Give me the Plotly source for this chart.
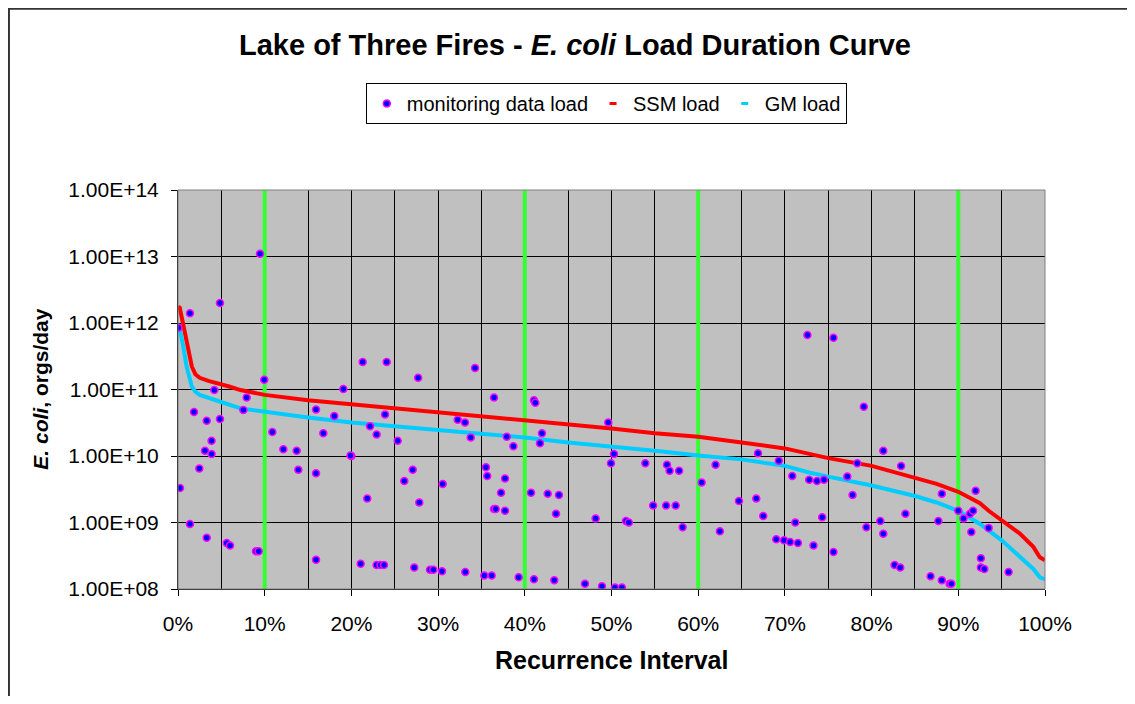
import plotly.graph_objects as go

# monitoring data: recurrence interval (fraction) and load (orgs/day)
mon_x = [
    0.0946, 0.0484, 0.0138, 0.0004, 0.0995, 0.0419, 0.0792, 0.0754, 0.0185, 0.0331,
    0.0484, 0.1088, 0.0387, 0.0311, 0.0387, 0.1215, 0.1369, 0.0246, 0.1388, 0.1592,
    0.0023, 0.0138, 0.0331, 0.0562, 0.0600, 0.0900, 0.0930, 0.1592, 0.1592, 0.1676,
    0.1907, 0.1803, 0.2000, 0.1990, 0.2183, 0.2130, 0.2407, 0.2388, 0.2215, 0.2291,
    0.2107, 0.2291, 0.2337, 0.2376,
    0.2770, 0.3426, 0.2534, 0.2707, 0.2610, 0.2783, 0.3053, 0.3226, 0.3310, 0.3376,
    0.3645, 0.3792, 0.3868, 0.3552, 0.3567, 0.3772, 0.3726, 0.3645, 0.3664, 0.3772,
    0.4106, 0.4121, 0.4198, 0.4175, 0.4072, 0.4264, 0.4394, 0.4360, 0.4817, 0.2725,
    0.2907, 0.2945, 0.3045, 0.3314, 0.3533, 0.3618, 0.3929, 0.4106, 0.4340, 0.4694,
    0.4890,
    0.4963, 0.5029, 0.4994, 0.5167, 0.5200, 0.5040, 0.5120, 0.5390, 0.5480, 0.5640,
    0.5670, 0.5780, 0.5630, 0.5740, 0.5820, 0.6040, 0.6200, 0.6250, 0.6470, 0.6670,
    0.6690, 0.6750, 0.6930, 0.7085, 0.7120, 0.6900, 0.6990, 0.7060, 0.7150, 0.7260,
    0.7280,
    0.7560, 0.7910, 0.8135, 0.7835, 0.7720, 0.8340, 0.7370, 0.7450, 0.7780, 0.7430,
    0.8100, 0.7940, 0.8135, 0.8390, 0.8770, 0.8810, 0.9200, 0.9000, 0.9060, 0.9135,
    0.9170, 0.9150, 0.9350, 0.9260, 0.9260, 0.9300, 0.9580, 0.7330, 0.7560, 0.8265,
    0.8330, 0.8680, 0.8810, 0.8900, 0.8920,
]
mon_y = [
    1.1e13, 2.0e12, 1.4e12, 8.5e11, 1.4e11, 9.8e10, 7.6e10, 4.9e10, 4.6e10, 3.4e10,
    3.6e10, 2.3e10, 1.7e10, 1.2e10, 1.07e10, 1.26e10, 1.2e10, 6.5e9, 6.2e9, 5.5e9,
    3.3e9, 9.5e8, 5.9e8, 4.9e8, 4.5e8, 3.7e8, 3.7e8, 2.75e8, 5.0e10, 2.2e10,
    1.02e11, 4.0e10, 1.0e10, 1.02e10, 2.3e9, 2.6e11, 2.6e11, 4.2e10, 2.8e10, 2.1e10,
    2.4e8, 2.3e8, 2.3e8, 2.3e8,
    1.5e11, 2.1e11, 1.7e10, 6.2e9, 4.2e9, 2.0e9, 3.8e9, 3.5e10, 3.2e10, 1.9e10,
    7.6e10, 1.95e10, 1.4e10, 6.8e9, 5.0e9, 4.6e9, 2.8e9, 1.6e9, 1.6e9, 1.5e9,
    6.9e10, 6.3e10, 2.2e10, 1.55e10, 2.8e9, 2.7e9, 2.6e9, 1.35e9, 1.15e9, 2.1e8,
    1.95e8, 1.95e8, 1.85e8, 1.8e8, 1.6e8, 1.6e8, 1.5e8, 1.4e8, 1.35e8, 1.2e8,
    1.1e8,
    3.2e10, 1.07e10, 7.8e9, 1.05e9, 1.0e9, 1.05e8, 1.05e8, 7.8e9, 1.8e9, 7.4e9,
    6.0e9, 6.0e9, 1.8e9, 1.8e9, 8.5e8, 4.0e9, 7.4e9, 7.4e8, 2.1e9, 2.3e9,
    1.1e10, 1.25e9, 8.5e9, 5.0e9, 1.0e9, 5.6e8, 5.4e8, 5.1e8, 4.9e8, 6.6e11,
    4.4e9,
    6.0e11, 5.5e10, 1.2e10, 7.8e9, 4.9e9, 7.1e9, 4.2e9, 4.4e9, 2.6e9, 1.2e9,
    1.05e9, 8.5e8, 6.8e8, 1.35e9, 1.05e9, 2.7e9, 3.0e9, 1.5e9, 1.15e9, 1.35e9,
    1.5e9, 7.2e8, 8.3e8, 2.9e8, 2.1e8, 2.0e8, 1.8e8, 4.5e8, 3.6e8, 2.3e8,
    2.1e8, 1.55e8, 1.35e8, 1.2e8, 1.2e8,
]

# load duration curves
ssm_x = [0.0, 0.002, 0.005, 0.008, 0.012, 0.016, 0.020, 0.025, 0.035, 0.048, 0.060, 0.072,
         0.10, 0.15, 0.20, 0.25, 0.30, 0.35, 0.40, 0.45, 0.50, 0.55, 0.60, 0.65, 0.70,
         0.75, 0.80, 0.85, 0.875, 0.90, 0.91, 0.925, 0.935, 0.95, 0.971, 0.9865, 0.994, 1.0]
ssm_y = [1.75e12, 1.7e12, 1.1e12, 7.1e11, 3.5e11, 2.2e11, 1.7e11, 1.5e11, 1.35e11, 1.23e11,
         1.1e11, 9.8e10, 8.3e10, 6.9e10, 6.0e10, 5.2e10, 4.6e10, 4.0e10, 3.5e10, 3.0e10,
         2.6e10, 2.2e10, 1.95e10, 1.6e10, 1.3e10, 9.3e9, 7.1e9, 4.7e9, 3.8e9, 2.9e9,
         2.5e9, 1.95e9, 1.5e9, 1.07e9, 6.8e8, 4.3e8, 3.0e8, 2.7e8]

gm_x = [0.0, 0.003, 0.006, 0.010, 0.016, 0.020, 0.025, 0.035, 0.048, 0.072, 0.10, 0.15,
        0.20, 0.25, 0.30, 0.35, 0.40, 0.45, 0.50, 0.55, 0.60, 0.65, 0.70, 0.729, 0.75,
        0.80, 0.85, 0.875, 0.90, 0.925, 0.95, 0.971, 0.9865, 0.994, 1.0]
gm_y = [9.5e11, 7.0e11, 4.5e11, 2.2e11, 1.1e11, 9.3e10, 8.3e10, 7.4e10, 6.6e10, 5.2e10,
        4.6e10, 3.8e10, 3.2e10, 2.8e10, 2.4e10, 2.1e10, 1.9e10, 1.6e10, 1.4e10, 1.2e10,
        1.02e10, 8.9e9, 7.1e9, 5.6e9, 4.9e9, 3.6e9, 2.5e9, 2.0e9, 1.5e9, 9.5e8,
        5.4e8, 3.0e8, 2.0e8, 1.5e8, 1.4e8]

# flow zone boundaries (green verticals)
zone_x = [0.10, 0.10, None, 0.40, 0.40, None, 0.60, 0.60, None, 0.90, 0.90]
zone_y = [1e8, 1e14, None, 1e8, 1e14, None, 1e8, 1e14, None, 1e8, 1e14]

y_tickvals = [1e8, 1e9, 1e10, 1e11, 1e12, 1e13, 1e14]
y_ticktext = ['1.00E+08', '1.00E+09', '1.00E+10', '1.00E+11', '1.00E+12', '1.00E+13', '1.00E+14']
x_tickvals = [0.0, 0.1, 0.2, 0.3, 0.4, 0.5, 0.6, 0.7, 0.8, 0.9, 1.0]

FONT = 'Arial, Liberation Sans, sans-serif'

fig = go.Figure()

fig.add_trace(go.Scatter(x=zone_x, y=zone_y, mode='lines', showlegend=False,
                         line=dict(color='#33FF33', width=4), hoverinfo='skip'))

# curves (drawn as thick lines, legend entries added separately as dashes)
fig.add_trace(go.Scatter(x=ssm_x, y=ssm_y, mode='lines', showlegend=False,
                         line=dict(color='#FF0000', width=4)))
fig.add_trace(go.Scatter(x=gm_x, y=gm_y, mode='lines', showlegend=False,
                         line=dict(color='#00CCFF', width=4)))

fig.add_trace(go.Scatter(
    x=mon_x, y=mon_y, mode='markers', name='monitoring data load',
    marker=dict(color='#0000FF', size=7, line=dict(color='#FF00FF', width=1.5)),
))
fig.add_trace(go.Scatter(
    x=[None], y=[None], mode='markers', name='SSM load',
    marker=dict(symbol='line-ew', size=5, line=dict(color='#FF0000', width=3)),
))
fig.add_trace(go.Scatter(
    x=[None], y=[None], mode='markers', name='GM load',
    marker=dict(symbol='line-ew', size=5, line=dict(color='#00CCFF', width=3)),
))

shapes = [
    # plot area border
    dict(type='rect', xref='paper', yref='paper', x0=0, x1=1, y0=0, y1=1,
         line=dict(color='#808080', width=1), layer='above'),
    # outer chart border
    dict(type='rect', xref='paper', yref='paper', x0=-0.195, x1=1.2, y0=-0.5, y1=1.454,
         line=dict(color='#333333', width=2), layer='above'),
]

fig.update_layout(
    paper_bgcolor='white',
    plot_bgcolor='#C0C0C0',
    font=dict(family=FONT, size=20, color='black'),
    margin=dict(l=170, r=82, t=182, b=107),
    title=dict(
        text='<b>Lake of Three Fires - <i>E. coli</i> Load Duration Curve</b>',
        font=dict(size=29, family=FONT, color='black'),
        x=0.5067, xref='container', xanchor='center',
        y=0.946, yref='container', yanchor='middle',
    ),
    legend=dict(
        orientation='h',
        x=0.494, xanchor='center',
        y=1.268, yanchor='top',
        bgcolor='white',
        bordercolor='black',
        borderwidth=1,
        font=dict(size=20, family=FONT),
        traceorder='normal',
        itemwidth=30,
    ),
    xaxis=dict(
        range=[0, 1],
        tickvals=x_tickvals,
        tickformat='.0%',
        ticks='outside', ticklen=6, tickcolor='black',
        showline=True, linecolor='black', linewidth=1,
        showgrid=True, gridcolor='black', gridwidth=1,
        minor=dict(dtick=0.05, showgrid=True, gridcolor='black', gridwidth=1),
        zeroline=False,
        tickfont=dict(size=21),
        ticklabelstandoff=10,
    ),
    yaxis=dict(
        type='log',
        range=[8, 14],
        tickvals=y_tickvals,
        ticktext=y_ticktext,
        ticks='outside', ticklen=6, tickcolor='black',
        showline=True, linecolor='black', linewidth=1,
        showgrid=True, gridcolor='black', gridwidth=1,
        zeroline=False,
        tickfont=dict(size=21),
        ticklabelstandoff=8,
    ),
    shapes=shapes,
    annotations=[
        dict(text='<b>Recurrence Interval</b>', xref='paper', yref='paper',
             x=0.5, y=-0.178, xanchor='center', yanchor='middle', showarrow=False,
             font=dict(size=25, family=FONT)),
        dict(text='<b><i>E. coli</i>, orgs/day</b>', xref='paper', yref='paper',
             x=-0.159, y=0.5, xanchor='center', yanchor='middle', showarrow=False,
             textangle=-90, font=dict(size=21, family=FONT)),
    ],
)

fig.write_html('out.html')
